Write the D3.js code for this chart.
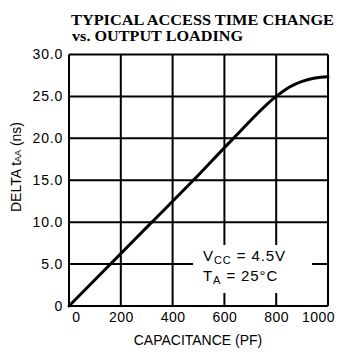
<!DOCTYPE html>
<html>
<head>
<meta charset="utf-8">
<script src="https://cdn.jsdelivr.net/npm/d3@7"></script>
<style>
  body { margin: 0; background: #fff; }
  svg { display: block; }
  .sans { font-family: "Liberation Sans", Arial, sans-serif; }
</style>
</head>
<body>
<svg id="chart"></svg>
<script>
const capacitance = [0, 160, 320, 480, 635, 800, 850, 900, 950, 1000];
const deltaTaa = [0, 5, 10, 15, 20, 25, 26.1, 26.8, 27.2, 27.35];
const xTicks = [0, 200, 400, 600, 800, 1000];
const yTicks = [0, 5, 10, 15, 20, 25, 30];

const width = 338;
const height = 355;

const svg = d3.select("#chart")
  .attr("width", width)
  .attr("height", height);

const x = d3.scaleLinear().domain([0, 1000]).range([69, 328]);
const y = d3.scaleLinear().domain([0, 30]).range([306, 54.5]);

// title
const title = svg.append("g")
  .style("font-family", "'Liberation Serif', 'Times New Roman', serif")
  .style("font-weight", "bold")
  .style("font-size", "15px");
title.append("text").attr("x", 71).attr("y", 25)
  .attr("textLength", 263).attr("lengthAdjust", "spacingAndGlyphs")
  .text("TYPICAL ACCESS TIME CHANGE");
title.append("text").attr("x", 72).attr("y", 41)
  .attr("textLength", 171).attr("lengthAdjust", "spacingAndGlyphs")
  .text("vs. OUTPUT LOADING");

// grid
const grid = svg.append("g").attr("stroke", "#000").attr("stroke-width", 2);
grid.selectAll("line.v")
  .data(xTicks)
  .join("line")
  .attr("class", "v")
  .attr("x1", d => x(d)).attr("x2", d => x(d))
  .attr("y1", y(30)).attr("y2", y(0));
grid.selectAll("line.h")
  .data(yTicks)
  .join("line")
  .attr("class", "h")
  .attr("x1", x(0)).attr("x2", x(1000))
  .attr("y1", d => y(d)).attr("y2", d => y(d));

// annotation knock-out box
svg.append("rect")
  .attr("x", 193).attr("y", 245)
  .attr("width", 119).attr("height", 48)
  .attr("fill", "#fff");

// curve
const line = d3.line()
  .x((d, i) => x(capacitance[i]))
  .y(d => y(d))
  .curve(d3.curveMonotoneX);
svg.append("path")
  .datum(deltaTaa)
  .attr("d", line)
  .attr("fill", "none")
  .attr("stroke", "#000")
  .attr("stroke-width", 3)
  .attr("stroke-linecap", "round");

// axes labels
const yAxis = d3.axisLeft(y)
  .tickValues(yTicks)
  .tickSize(0)
  .tickPadding(6)
  .tickFormat(d => d === 0 ? "0" : d.toFixed(1));
const gy = svg.append("g")
  .attr("transform", `translate(${x(0)},0)`)
  .call(yAxis);
gy.select(".domain").remove();
gy.selectAll("text")
  .attr("class", "sans")
  .style("font-size", "14px")
  .style("letter-spacing", "0.8px")
  .attr("fill", "#000");

const xAxis = d3.axisBottom(x)
  .tickValues(xTicks)
  .tickSize(0)
  .tickPadding(6)
  .tickFormat(d3.format("d"));
const gx = svg.append("g")
  .attr("transform", `translate(0,${y(0)})`)
  .call(xAxis);
gx.select(".domain").remove();
gx.selectAll("text")
  .attr("class", "sans")
  .style("font-size", "14px")
  .style("letter-spacing", "0.5px")
  .attr("fill", "#000")
  .attr("dx", d => d === 0 ? 7 : d === 1000 ? -10 : 0);

svg.append("text")
  .attr("class", "sans")
  .attr("x", 198).attr("y", 345)
  .attr("text-anchor", "middle")
  .style("font-size", "14px")
  .text("CAPACITANCE (PF)");

const yl = svg.append("text")
  .attr("class", "sans")
  .attr("transform", "translate(21,167) rotate(-90)")
  .attr("text-anchor", "middle")
  .style("font-size", "14px");
yl.append("tspan").text("DELTA t");
yl.append("tspan").style("font-size", "9px").text("AA");
yl.append("tspan").text(" (ns)");

// conditions
const note = svg.append("g").attr("class", "sans")
  .style("font-size", "15px")
  .style("letter-spacing", "0.9px");
const n1 = note.append("text").attr("x", 203).attr("y", 261);
n1.append("tspan").text("V");
n1.append("tspan").attr("dy", 3).style("font-size", "11px").text("CC");
n1.append("tspan").attr("dy", -3).text(" = 4.5V");
const n2 = note.append("text").attr("x", 203).attr("y", 281);
n2.append("tspan").text("T");
n2.append("tspan").attr("dy", 3).style("font-size", "11px").text("A");
n2.append("tspan").attr("dy", -3).text(" = 25°C");
</script>
</body>
</html>
